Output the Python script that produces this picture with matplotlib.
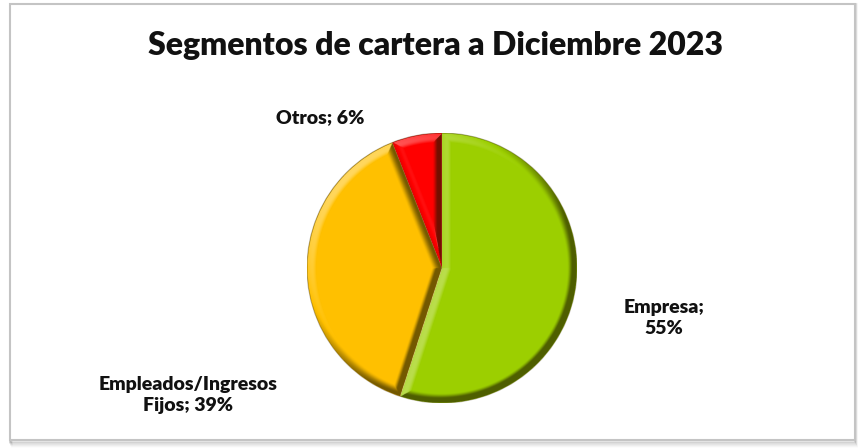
import numpy as np
import matplotlib.pyplot as plt
from matplotlib.patches import Rectangle, Circle

plt.rcParams["font.family"] = ["Lato", "DejaVu Sans"]

# -------- Data --------
segments = ["Empresa", "Empleados/Ingresos Fijos", "Otros"]
shares = [55, 39, 6]
slice_colors = ["#9CCF00", "#FFC000", "#FF0000"]
title = "Segmentos de cartera a Diciembre 2023"

W, H = 858, 448
CX, CY, R = 442, 268, 135   # pie centre / radius in pixels (y from top)


def bevel_overlay(wedges, n=700, width=0.07):
    """Per-pixel lighting for a rounded bevel on every wedge."""
    g = np.linspace(-1, 1, n)
    x, y = np.meshgrid(g, -g)
    r = np.hypot(x, y) + 1e-9
    phi = np.degrees(np.arctan2(y, x))
    light = np.array([-0.55, 0.6, 0.58])
    light /= np.linalg.norm(light)
    shade = np.zeros_like(x)

    for w in wedges:
        t1, t2 = w.theta1, w.theta2
        rel = (phi - t1) % 360
        inside = (rel <= (t2 - t1)) & (r <= 1)
        a1, a2 = np.radians(t1), np.radians(t2)

        d_arc = 1 - r
        d1 = np.where(np.radians(rel) < np.pi / 2, r * np.sin(np.radians(rel)), r)
        rel2 = np.radians((t2 - phi) % 360)
        d2 = np.where(rel2 < np.pi / 2, r * np.sin(rel2), r)

        d = np.minimum(np.minimum(d_arc, d1), d2)
        nx = np.where(d == d_arc, x / r, np.where(d == d1, np.sin(a1), -np.sin(a2)))
        ny = np.where(d == d_arc, y / r, np.where(d == d1, -np.cos(a1), np.cos(a2)))

        k = np.clip(1 - d / width, 0, 1) ** 1.4 * 2.6
        norm = np.sqrt((nx * k) ** 2 + (ny * k) ** 2 + 1.0)
        inten = (nx * k * light[0] + ny * k * light[1] + light[2]) / norm
        shade = np.where(inside, inten - light[2], shade)

    rgba = np.zeros(x.shape + (4,))
    pos = shade > 0
    rgba[pos, :3] = 1.0
    rgba[pos, 3] = np.clip(shade[pos] * 0.9, 0, 0.55)
    rgba[~pos, :3] = (0.12, 0.1, 0.0)
    rgba[~pos, 3] = np.clip(-shade[~pos] * 1.1, 0, 0.62)
    return rgba


fig = plt.figure(figsize=(W / 100, H / 100), dpi=100)

# -------- Frame --------
bg = fig.add_axes([0, 0, 1, 1])
bg.set_xlim(0, W)
bg.set_ylim(H, 0)
bg.axis("off")
for i, a in enumerate([0.12, 0.09, 0.07, 0.05, 0.03, 0.015]):
    bg.add_patch(Rectangle((10 + i * 0.4, 4), 845, 437 + i + 1, facecolor="none",
                           edgecolor=(0, 0, 0, a), linewidth=1.2))
bg.add_patch(Rectangle((10, 4), 845, 436, facecolor="white",
                       edgecolor="#C4C4C4", linewidth=1.5))

bg.text(436, 46, title, ha="center", va="center", fontsize=23,
        fontweight="heavy", color="#111111")

# -------- Pie --------
ax = fig.add_axes([(CX - R) / W, (H - CY - R) / H, 2 * R / W, 2 * R / H])
wedges, _ = ax.pie(shares, colors=slice_colors, startangle=90,
                   counterclock=False, radius=1,
                   wedgeprops=dict(linewidth=0))
ax.axis("off")

img = ax.imshow(bevel_overlay(wedges), extent=(-1, 1, -1, 1),
                interpolation="bilinear", zorder=3)
img.set_clip_path(Circle((0, 0), 1, transform=ax.transData))
ax.add_patch(Circle((0, 0), 1, facecolor="none", edgecolor=(0.2, 0.15, 0, 0.35),
                    linewidth=0.8, zorder=4))
ax.set_xlim(-1, 1)
ax.set_ylim(-1, 1)
ax.set_aspect("equal")

# -------- Data labels --------
label_style = dict(ha="center", va="center", fontsize=14, fontweight="heavy",
                   color="#111111", linespacing=1.3)
bg.text(664, 318, f"{segments[0]};\n{shares[0]}%", **label_style)
bg.text(188, 395, f"Empleados/Ingresos\nFijos; {shares[1]}%", **label_style)
bg.text(320, 118, f"{segments[2]}; {shares[2]}%", **label_style)

fig.savefig("out.png", dpi=100)
